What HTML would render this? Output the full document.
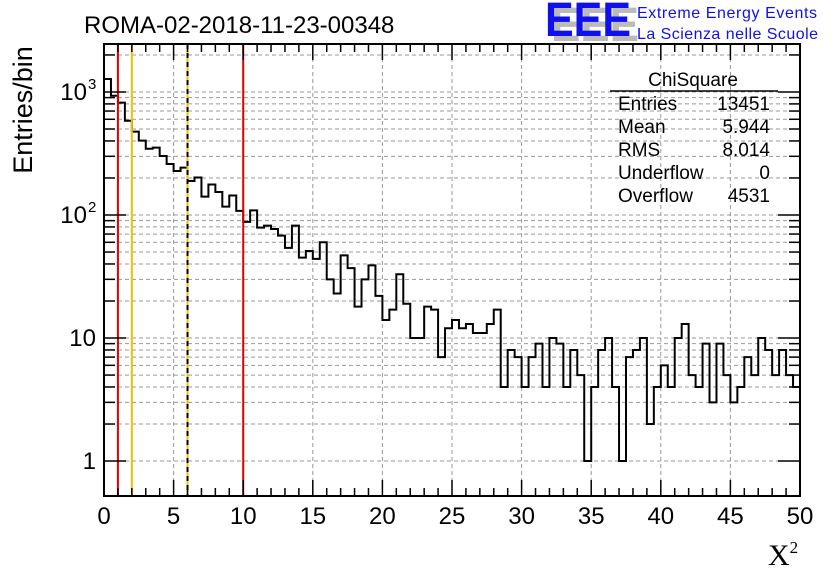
<!DOCTYPE html>
<html><head><meta charset="utf-8"><style>
body{margin:0;background:#fff}
svg{display:block;font-family:"Liberation Sans",sans-serif}
</style></head><body>
<svg id="c" width="836" height="572" viewBox="0 0 836 572">
<rect width="836" height="572" fill="#fff"/>
<g id="grid"></g>
<g id="hist"></g>
<g id="cuts"></g>
<g id="axes"></g>
<text x="84" y="33" font-size="24">ROMA-02-2018-11-23-00348</text>
<g>
<text x="551" y="41" font-size="48" font-weight="bold" fill="#bbb" textLength="88" lengthAdjust="spacingAndGlyphs">EEE</text>
<text x="545" y="36" font-size="48" font-weight="bold" fill="#1010ee" textLength="86" lengthAdjust="spacingAndGlyphs">EEE</text>
<text x="637" y="18" font-size="16" fill="#1010ee" textLength="180">Extreme Energy Events</text>
<text x="637" y="39" font-size="16" fill="#1010ee" textLength="181">La Scienza nelle Scuole</text>
</g>
<g font-size="19">
<text x="693" y="86" text-anchor="middle">ChiSquare</text>
<line x1="610" y1="91" x2="778" y2="91" stroke="#000" stroke-width="1.5"/>
<text x="618" y="110">Entries</text><text x="770" y="110" text-anchor="end">13451</text>
<text x="618" y="133">Mean</text><text x="770" y="133" text-anchor="end">5.944</text>
<text x="618" y="156">RMS</text><text x="770" y="156" text-anchor="end">8.014</text>
<text x="618" y="179">Underflow</text><text x="770" y="179" text-anchor="end">0</text>
<text x="618" y="202">Overflow</text><text x="770" y="202" text-anchor="end">4531</text>
</g>
<text transform="translate(32,110) rotate(-90)" font-size="27" text-anchor="middle">Entries/bin</text>
<text x="768" y="565" font-size="30" font-family="Liberation Serif,serif">X<tspan font-size="17" dy="-12">2</tspan></text>
</svg>
<script>
const counts=[1275,933,819,584,476,402,346,353,302,260,228,243,189,202,141,177,154,117,144,108,88,109,79,82,77,68,54,82,45,51,44,60,30,23,47,37,18,30,39,22,14,17,33,19,10,10,18,17,7,12,14,12,13,11,11,13,17,4,8,7,4,7,9,4,10,9,4,8,5,1,4,8,10,4,1,7,8,10,2,4,6,4,10,13,5,4,9,3,9,5,3,4,7,5,10,8,5,8,5,4];
const xTicks=[0,5,10,15,20,25,30,35,40,45,50];
const yDecades=[1,10,100,1000];
const yLabels=["1","10","10","10"];
const yExps=["","","2","3"];
const cutValues=[1,2,6,10];
const cutColors=["#e00000","#f0c000","#f0c000","#e00000"];
const L=104,R=800,T=44,B=496,xMin=0,xMax=50,yMin=0.52,yMax=2455;
const NS="http://www.w3.org/2000/svg";
const X=v=>L+(v-xMin)/(xMax-xMin)*(R-L);
const Y=v=>B-(Math.log10(v)-Math.log10(yMin))/(Math.log10(yMax)-Math.log10(yMin))*(B-T);
function mk(tag,at,parent){const e=document.createElementNS(NS,tag);for(const k in at)e.setAttribute(k,at[k]);parent.appendChild(e);return e;}
const grid=document.getElementById('grid'),hist=document.getElementById('hist'),cuts=document.getElementById('cuts'),axes=document.getElementById('axes');
xTicks.forEach(t=>{if(t>xMin&&t<xMax){const l=mk('line',{x1:X(t),x2:X(t),y1:T,y2:B,stroke:'#999','stroke-dasharray':'4,3'},grid);}});
yDecades.forEach(d=>{for(let m=1;m<10;m++){const v=d*m;if(v>yMin&&v<yMax){const l=mk('line',{x1:L,x2:R,y1:Y(v),y2:Y(v),stroke:'#999','stroke-dasharray':'4,3'},grid);}}});
const bw=(xMax-xMin)/counts.length;let d='M'+X(0)+','+B;
counts.forEach((c,i)=>{d+=' L'+X(i*bw)+','+Y(c)+' L'+X((i+1)*bw)+','+Y(c);});
const p=mk('path',{d:d,fill:'none',stroke:'#000','stroke-width':2},hist);


cutValues.forEach((v,i)=>{const l=mk('line',{x1:X(v),x2:X(v),y1:T,y2:B,stroke:cutColors[i],'stroke-width':2},cuts);
 if(v===6){const l2=mk('line',{x1:X(v),x2:X(v),y1:T,y2:B,stroke:'#000','stroke-width':2,'stroke-dasharray':'5,4'},cuts);}});
const f=mk('rect',{x:L,y:T,width:R-L,height:B-T,fill:'none',stroke:'#000','stroke-width':2},axes);


for(let v=xMin;v<=xMax+1e-9;v+=1){const big=v%5===0;const h=big?16:8;
 mk('line',{x1:X(v),x2:X(v),y1:B,y2:B-h,stroke:'#000','stroke-width':1.5},axes);
 mk('line',{x1:X(v),x2:X(v),y1:T,y2:T+h,stroke:'#000','stroke-width':1.5},axes);}
xTicks.forEach(t=>{const tx=mk('text',{x:X(t),y:B+28,'font-size':24,'text-anchor':'middle'},axes);tx.textContent=t;});
yDecades.forEach((dd,i)=>{for(let m=1;m<10;m++){const v=dd*m;if(v<yMin||v>yMax)continue;const h=m===1?22:11;
 mk('line',{x1:L,x2:L+h,y1:Y(v),y2:Y(v),stroke:'#000','stroke-width':1.5},axes);
 mk('line',{x1:R,x2:R-h,y1:Y(v),y2:Y(v),stroke:'#000','stroke-width':1.5},axes);}
 const tx=mk('text',{x:i<2?96:87,y:Y(dd)+8,'font-size':24,'text-anchor':'end'},axes);tx.textContent=yLabels[i];
 
 
 if(yExps[i]){const e=mk('text',{x:88,y:Y(dd)-3,'font-size':15},axes);e.textContent=yExps[i];}
});
</script>
</body></html>
